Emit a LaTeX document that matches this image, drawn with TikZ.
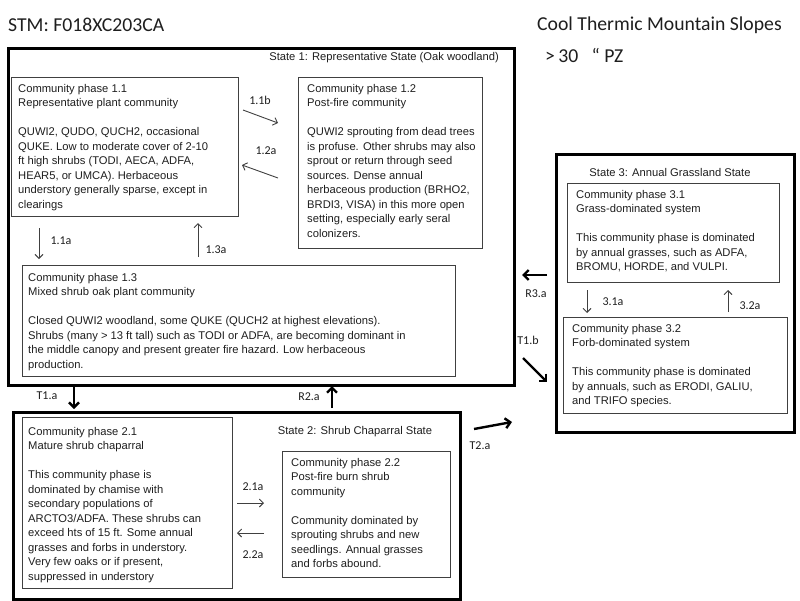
\documentclass[tikz,border=0pt]{standalone}
\usepackage{fontspec}
\setmainfont{Liberation Sans}
\newfontfamily\arialfont{Liberation Sans}
\newfontfamily\califont{Carlito}
\usetikzlibrary{arrows.meta}
\definecolor{boxline}{HTML}{404040}
\definecolor{txtc}{HTML}{1E1E1E}
\tikzset{
 statebox/.style={draw=black, line width=2.6pt, inner sep=0pt, anchor=north west},
 phasebox/.style={draw=boxline, line width=1.1pt, inner sep=0pt, anchor=north west},
 ptext/.style={anchor=north west, align=left, inner sep=0pt, text=txtc, font=\arialfont\fontsize{11.2}{14.5}\selectfont},
 slabel/.style={inner sep=0pt, text=txtc, font=\arialfont\fontsize{11.2}{14.5}\selectfont},
 tlabel/.style={inner sep=0pt, text=txtc, font=\califont\fontsize{12}{14}\selectfont},
 thinarrow/.style={draw=boxline, line width=0.9pt, -{Straight Barb[length=4pt,width=8pt]}},
 thickarrow/.style={draw=black, line width=2.4pt, -{Straight Barb[length=5pt,width=10pt]}},
 titletext/.style={inner sep=0pt, anchor=west, text=txtc, font=\califont\fontsize{19.7}{22}\selectfont},
}
\begin{document}
\begin{tikzpicture}[x=1pt,y=-1pt]
\useasboundingbox (0,0) rectangle (800,600);

% titles
\node[titletext] (stm) at (8,25) {STM: F018XC203CA};
\node[titletext] (ctms) at (537,25) {Cool Thermic Mountain Slopes};
\node[titletext] (pz) at (545,55) {>\,30\ \ \ “\ PZ};

% State 1
\node[statebox, minimum width=506, minimum height=337] (s1) at (7,47) {};
\node[slabel, anchor=east] (s1l) at (499,58) {State 1: Representative State (Oak woodland)};

\node[phasebox, minimum width=227, minimum height=139] (p11) at (11,77) {};
\node[ptext] (p11t) at ([shift={(7,7)}]p11.north west) {Community phase 1.1\\
Representative plant community\\[14.5pt]
QUWI2, QUDO, QUCH2, occasional\\
QUKE. Low to moderate cover of 2-10\\
ft high shrubs (TODI, AECA, ADFA,\\
HEAR5, or UMCA).  Herbaceous\\
understory generally  sparse, except in\\
clearings};

\node[phasebox, minimum width=184, minimum height=171] (p12) at (298,77) {};
\node[ptext] (p12t) at ([shift={(9,7)}]p12.north west) {Community phase 1.2\\
Post-fire community\\[14.5pt]
QUWI2 sprouting from dead trees\\
is profuse. Other shrubs may also\\
sprout or return through seed\\
sources.  Dense annual\\
herbaceous production (BRHO2,\\
BRDI3, VISA)  in this more open\\
setting, especially early seral\\
colonizers.};

\node[phasebox, minimum width=433, minimum height=111] (p13) at (22,265) {};
\node[ptext] (p13t) at ([shift={(6,8)}]p13.north west) {Community phase 1.3\\
Mixed  shrub oak plant community\\[14.5pt]
Closed QUWI2 woodland, some QUKE (QUCH2 at highest elevations).\\
Shrubs (many > 13 ft tall) such as TODI or ADFA, are becoming  dominant in\\
the middle canopy and present greater fire hazard. Low herbaceous\\
production.};

% State 1 internal transitions
\coordinate (a11bs) at (243,110); \coordinate (a11be) at (278,123);
\draw[thinarrow] (a11bs) -- (a11be);
\node[tlabel] (l11b) at (260,100) {1.1b};
\coordinate (a12as) at (278,178); \coordinate (a12ae) at (242,165);
\draw[thinarrow] (a12as) -- (a12ae);
\node[tlabel] (l12a) at (266,151) {1.2a};
\coordinate (a11as) at (39,228); \coordinate (a11ae) at (39,259);
\draw[thinarrow] (a11as) -- (a11ae);
\node[tlabel] (l11a) at (61,241) {1.1a};
\coordinate (a13as) at (198,257); \coordinate (a13ae) at (198,223);
\draw[thinarrow] (a13as) -- (a13ae);
\node[tlabel] (l13a) at (216,250) {1.3a};

% State 2
\node[statebox, minimum width=447, minimum height=187] (s2) at (12,411) {};
\node[slabel] (s2l) at (355,432) {State 2: Shrub Chaparral State};

\node[phasebox, minimum width=210, minimum height=171] (p21) at (22,417) {};
\node[ptext] (p21t) at ([shift={(6,10)}]p21.north west) {Community phase 2.1\\
Mature  shrub chaparral\\[14.5pt]
This community phase is\\
dominated by chamise with\\
secondary populations  of\\
ARCTO3/ADFA.  These shrubs can\\
exceed hts of 15 ft. Some annual\\
grasses and forbs in understory.\\
Very few oaks or if present,\\
suppressed in understory};

\node[phasebox, minimum width=168, minimum height=126] (p22) at (282,451) {};
\node[ptext] (p22t) at ([shift={(9,7)}]p22.north west) {Community phase 2.2\\
Post-fire burn shrub\\
community\\[14.5pt]
Community dominated by\\
sprouting shrubs and new\\
seedlings.  Annual grasses\\
and forbs abound.};

\coordinate (a21as) at (237,503); \coordinate (a21ae) at (264,503);
\draw[thinarrow] (a21as) -- (a21ae);
\node[tlabel] (l21a) at (253,487) {2.1a};
\coordinate (a22as) at (264,533); \coordinate (a22ae) at (237,533);
\draw[thinarrow] (a22as) -- (a22ae);
\node[tlabel] (l22a) at (253,555) {2.2a};

% State 3
\node[statebox, minimum width=238, minimum height=278] (s3) at (555,153) {};
\node[slabel] (s3l) at (670,172) {State 3: Annual  Grassland State};

\node[phasebox, minimum width=212, minimum height=99] (p31) at (567,183) {};
\node[ptext] (p31t) at ([shift={(9,7)}]p31.north west) {Community phase 3.1\\
Grass-dominated system\\[14.5pt]
This community phase is dominated\\
by annual  grasses, such as ADFA,\\
BROMU, HORDE, and VULPI.};

\node[phasebox, minimum width=224, minimum height=96] (p32) at (563,317) {};
\node[ptext] (p32t) at ([shift={(9,7)}]p32.north west) {Community phase 3.2\\
Forb-dominated system\\[14.5pt]
This community phase is dominated\\
by annuals,  such as ERODI, GALIU,\\
and TRIFO species.};

\coordinate (a31as) at (587,290); \coordinate (a31ae) at (587,313);
\draw[thinarrow] (a31as) -- (a31ae);
\node[tlabel] (l31a) at (613,302) {3.1a};
\coordinate (a32as) at (728,312); \coordinate (a32ae) at (728,290);
\draw[thinarrow] (a32as) -- (a32ae);
\node[tlabel] (l32a) at (750,306) {3.2a};

% State transitions
\coordinate (t1as) at (74,387); \coordinate (t1ae) at (74,409);
\draw[thickarrow] (t1as) -- (t1ae);
\node[tlabel] (lt1a) at (47,396) {T1.a};
\coordinate (r2as) at (332,408); \coordinate (r2ae) at (332,386);
\draw[thickarrow] (r2as) -- (r2ae);
\node[tlabel] (lr2a) at (309,397) {R2.a};
\coordinate (t2as) at (474,429); \coordinate (t2ae) at (512,422);
\draw[thickarrow] (t2as) -- (t2ae);
\node[tlabel] (lt2a) at (480,446) {T2.a};
\coordinate (r3as) at (547,275); \coordinate (r3ae) at (522,275);
\draw[thickarrow] (r3as) -- (r3ae);
\node[tlabel] (lr3a) at (536,294) {R3.a};
\coordinate (t1bs) at (523,358); \coordinate (t1be) at (547,382);
\draw[thickarrow] (t1bs) -- (t1be);
\node[tlabel] (lt1b) at (528,340) {T1.b};
\end{tikzpicture}
\end{document}
